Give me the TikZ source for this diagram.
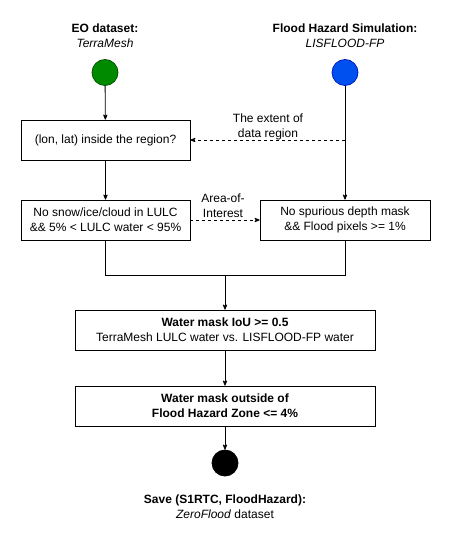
\documentclass[tikz,border=0pt]{standalone}
\usepackage{fontspec}
\setmainfont{Liberation Sans}
\usepackage{tikz}
\usetikzlibrary{arrows}

\definecolor{eogreen}{HTML}{008A00}
\definecolor{eogreenline}{HTML}{005700}
\definecolor{fhblue}{HTML}{0050EF}
\definecolor{fhblueline}{HTML}{001DBC}

\begin{document}
\begin{tikzpicture}[x=1pt, y=-1pt, line width=0.8pt,
  font=\fontsize{12}{15}\selectfont,
  stepbox/.style={draw, rectangle, minimum height=40pt, align=center, inner sep=2pt},
  dot/.style={draw, circle, minimum size=26pt, inner sep=0pt}]
\useasboundingbox (0,0) rectangle (451,540);

\node[align=center] at (105,35.5) (eo) {\textbf{EO dataset:}\\\textit{TerraMesh}};
\node[align=center] at (345,35.5) (fh) {\textbf{Flood Hazard Simulation:}\\\textit{LISFLOOD-FP}};

\node[dot, fill=eogreen, draw=eogreenline] at (105,72.5) (src1) {};
\node[dot, fill=fhblue, draw=fhblueline] at (345,72.5) (src2) {};

\node[stepbox, minimum width=169pt] at (105.5,140) (reg) {(lon, lat) inside the region?};
\node[stepbox, minimum width=169pt] at (105.5,220) (lulc) {No snow/ice/cloud in LULC\\\&\& 5\% < LULC water < 95\%};
\node[stepbox, minimum width=170pt] at (345,220) (depth) {No spurious depth mask\\\&\& Flood pixels >= 1\%};
\node[stepbox, minimum width=300pt] at (225,330) (iou) {\textbf{Water mask IoU >= 0.5}\\TerraMesh LULC water vs. LISFLOOD-FP water};
\node[stepbox, minimum width=300pt] at (225,406) (zone) {\textbf{Water mask outside of}\\\textbf{Flood Hazard Zone <= 4\%}};

\node[dot, fill=black] at (225,463) (sink) {};
\node[align=center] at (225,507) (save) {\textbf{Save (S1RTC, FloodHazard):}\\\textit{ZeroFlood} dataset};

\node[align=center] at (268,127) (extent) {The extent of\\data region};
\node[align=center] at (223,206) (aoi) {Area-of-\\Interest};

\coordinate (tap) at (345,140);
\coordinate (lcorner) at (105.5,275);
\coordinate (rcorner) at (345,275);
\coordinate (join) at (225,275);

\path[->, >=stealth'] (src1) edge (reg);
\path[->, >=stealth'] (reg) edge (lulc);
\path[->, >=stealth'] (src2) edge (depth);
\path[dashed, ->, >=stealth'] (tap) edge (reg);
\path[dashed, ->, >=stealth'] (lulc) edge (depth);

\draw (lulc.south) -- (lcorner) -- (rcorner) -- (depth.south);
\path[->, >=stealth'] (join) edge (iou);
\path[->, >=stealth'] (iou) edge (zone);
\path[->, >=stealth'] (zone) edge (sink);

\end{tikzpicture}
\end{document}
